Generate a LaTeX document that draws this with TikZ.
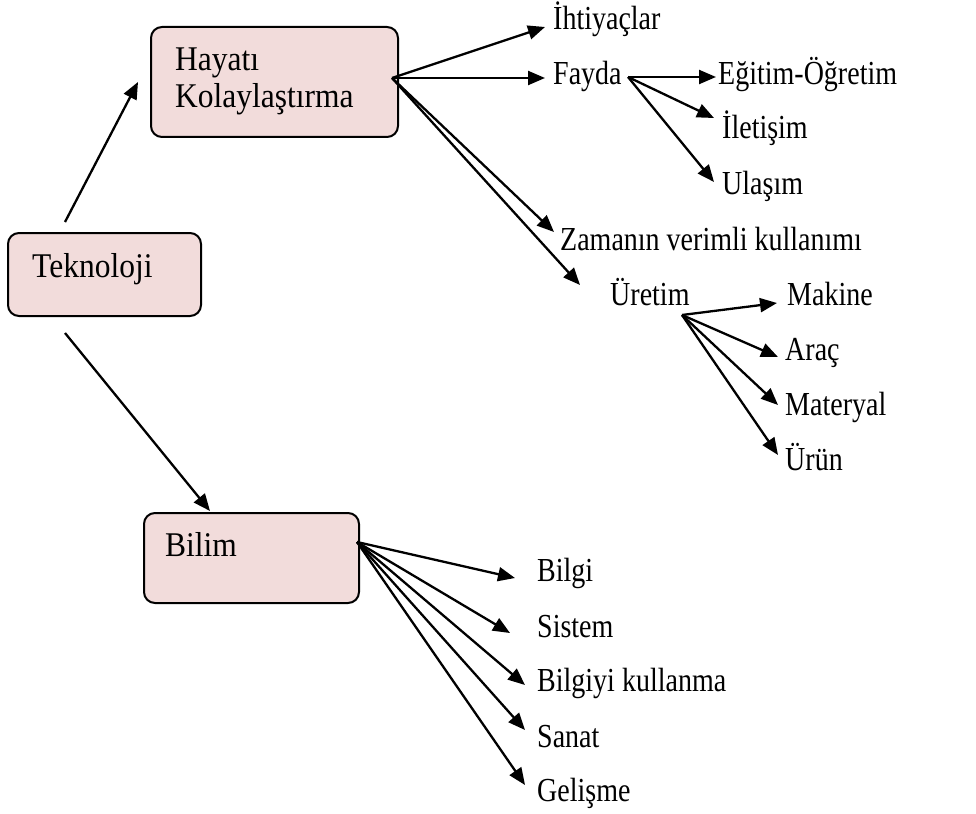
\documentclass[tikz,border=0pt]{standalone}
\usepackage{fontspec}
\usepackage{graphicx}
\setmainfont{Liberation Serif}
\usetikzlibrary{arrows.meta}
\definecolor{boxpink}{RGB}{242,220,219}
\newcommand{\leaftxt}[1]{\scalebox{1}[1.2]{#1}}
\newcommand{\boxtxtcmd}[1]{\scalebox{1}[1.1]{#1}}
\begin{document}
\begin{tikzpicture}[x=1pt,y=-1pt,
  box/.style={draw=black,line width=2pt,fill=boxpink,rounded corners=11pt,inner sep=0pt,anchor=north west},
  boxtxt/.style={inner sep=0pt,anchor=base west,font=\fontsize{31.5}{37}\selectfont},
  leaf/.style={inner sep=0pt,anchor=base west,font=\fontsize{28}{34}\selectfont},
  arr/.style={-{Triangle[length=17pt,width=14pt]},line width=2.3pt}]
\useasboundingbox (0,0) rectangle (976,813);
% boxes
\node[box,minimum width=193pt,minimum height=83pt] (tek) at (7,232) {};
\node[box,minimum width=247pt,minimum height=110pt] (hay) at (150,26) {};
\node[box,minimum width=215pt,minimum height=90pt] (bil) at (143,512) {};
\node[boxtxt] (tekT) at (32,277) {\boxtxtcmd{Teknoloji}};
\node[boxtxt] (hay1) at (175,71) {\boxtxtcmd{Hayatı}};
\node[boxtxt] (hay2) at (175,108) {\boxtxtcmd{Kolaylaştırma}};
\node[boxtxt] (bilT) at (165,556) {\boxtxtcmd{Bilim}};
% leaves
\node[leaf] (iht) at (553,30) {\leaftxt{İhtiyaçlar}};
\node[leaf] (fay) at (553,85) {\leaftxt{Fayda}};
\node[leaf] (egi) at (718,85) {\leaftxt{Eğitim-Öğretim}};
\node[leaf] (ile) at (722,139) {\leaftxt{İletişim}};
\node[leaf] (ula) at (722,194) {\leaftxt{Ulaşım}};
\node[leaf] (zam) at (560,250) {\leaftxt{Zamanın verimli kullanımı}};
\node[leaf] (ure) at (610,305) {\leaftxt{Üretim}};
\node[leaf] (mak) at (787,305) {\leaftxt{Makine}};
\node[leaf] (ara) at (785,360) {\leaftxt{Araç}};
\node[leaf] (mat) at (785,415) {\leaftxt{Materyal}};
\node[leaf] (uru) at (785,470) {\leaftxt{Ürün}};
\node[leaf] (blg) at (537,581) {\leaftxt{Bilgi}};
\node[leaf] (sis) at (537,637) {\leaftxt{Sistem}};
\node[leaf] (bku) at (537,691) {\leaftxt{Bilgiyi kullanma}};
\node[leaf] (san) at (537,747) {\leaftxt{Sanat}};
\node[leaf] (gel) at (537,801) {\leaftxt{Gelişme}};
% connector endpoints
\coordinate (tekTop) at (65,222);
\coordinate (tekBot) at (65,333);
\coordinate (hayIn) at (138,82);
\coordinate (bilIn) at (210,511);
\coordinate (hayO) at (392,78);
\coordinate (fayO) at (628,77);
\coordinate (ureO) at (682,315);
\coordinate (bilO) at (357,542);
\coordinate (ihtT) at (545,27);
\coordinate (fayT) at (545,78);
\coordinate (egiT) at (716,77);
\coordinate (ileT) at (714,118);
\coordinate (ulaT) at (714,182);
\coordinate (zamT) at (554,232);
\coordinate (ureT) at (580,285);
\coordinate (makT) at (777,303);
\coordinate (araT) at (778,357);
\coordinate (matT) at (778,405);
\coordinate (uruT) at (778,455);
\coordinate (blgT) at (515,578);
\coordinate (sisT) at (510,633);
\coordinate (bkuT) at (525,685);
\coordinate (sanT) at (525,730);
\coordinate (gelT) at (525,785);
% connectors
\draw[arr] (tekTop) -- (hayIn);
\draw[arr] (tekBot) -- (bilIn);
\draw[arr] (hayO) -- (ihtT);
\draw[arr] (hayO) -- (fayT);
\draw[arr] (hayO) -- (zamT);
\draw[arr] (hayO) -- (ureT);
\draw[arr] (fayO) -- (egiT);
\draw[arr] (fayO) -- (ileT);
\draw[arr] (fayO) -- (ulaT);
\draw[arr] (ureO) -- (makT);
\draw[arr] (ureO) -- (araT);
\draw[arr] (ureO) -- (matT);
\draw[arr] (ureO) -- (uruT);
\draw[arr] (bilO) -- (blgT);
\draw[arr] (bilO) -- (sisT);
\draw[arr] (bilO) -- (bkuT);
\draw[arr] (bilO) -- (sanT);
\draw[arr] (bilO) -- (gelT);
\end{tikzpicture}
\end{document}
